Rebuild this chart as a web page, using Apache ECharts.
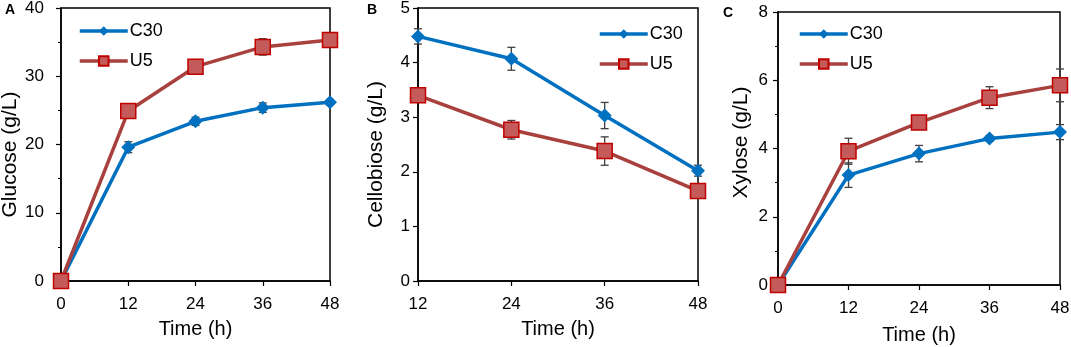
<!DOCTYPE html>
<html>
<head>
<meta charset="utf-8">
<script src="https://cdn.jsdelivr.net/npm/echarts@6/dist/echarts.min.js"></script>
<style>
  html, body { margin: 0; padding: 0; background: #fff; }
  #chart { width: 1071px; height: 347px; }
</style>
</head>
<body>
<div id="chart"></div>
<script>
// panel A - glucose
const timeA = [0, 12, 24, 36, 48]
const glucoseC30 = [0, 19.6, 23.4, 25.4, 26.2]
const glucoseC30Err = [0, 0.8, 0.6, 0.7, 0.4]
const glucoseU5 = [0, 24.9, 31.4, 34.3, 35.3]
const glucoseU5Err = [0, 0.5, 0.5, 1.2, 0.6]

// panel B - cellobiose
const timeB = [12, 24, 36, 48]
const cellobioseC30 = [4.48, 4.07, 3.03, 2.02]
const cellobioseC30Err = [0.14, 0.21, 0.24, 0.1]
const cellobioseU5 = [3.4, 2.77, 2.38, 1.65]
const cellobioseU5Err = [0.05, 0.17, 0.26, 0.05]

// panel C - xylose
const timeC = [0, 12, 24, 36, 48]
const xyloseC30 = [0, 3.22, 3.85, 4.29, 4.48]
const xyloseC30Err = [0, 0.36, 0.24, 0.08, 0.22]
const xyloseU5 = [0, 3.92, 4.76, 5.49, 5.85]
const xyloseU5Err = [0, 0.38, 0.1, 0.32, 0.48]

const BLUE = '#0070C0'
const RED_LINE = '#A8403E'
const RED_FILL = '#C55A5A'
const RED_EDGE = '#C00000'
const FONT = 'Liberation Sans, Arial, sans-serif'

const grids = [
  { left: 61, top: 8, width: 269, height: 273 },
  { left: 418, top: 8, width: 280, height: 273 },
  { left: 778, top: 12, width: 282, height: 273 },
]

// per-panel axis setup; padding nudges the rotated y title up/down
const panels = [
  { x: timeA, c30: glucoseC30, c30e: glucoseC30Err, u5: glucoseU5, u5e: glucoseU5Err,
    xmin: 0, ymax: 40, yint: 10, minor: true, name: 'Glucose (g/L)',
    yGap: 40, yMargin: 17, xGap: 38, namePad: [0, 20, 0, 0] },
  { x: timeB, c30: cellobioseC30, c30e: cellobioseC30Err, u5: cellobioseU5, u5e: cellobioseU5Err,
    xmin: 12, ymax: 5, yint: 1, minor: false, name: 'Cellobiose (g/L)',
    yGap: 31, yMargin: 8, xGap: 38, namePad: [0, 20, 0, 0] },
  { x: timeC, c30: xyloseC30, c30e: xyloseC30Err, u5: xyloseU5, u5e: xyloseU5Err,
    xmin: 0, ymax: 8, yint: 2, minor: true, name: 'Xylose (g/L)',
    yGap: 26, yMargin: 10, xGap: 40, namePad: [0, 0, 0, 12] },
]

function pairs(xs, ys) {
  return xs.map((x, i) => [x, ys[i]])
}

function errData(xs, ys, es) {
  return xs.map((x, i) => [x, ys[i] - es[i], ys[i] + es[i]])
}

function renderErr(params, api) {
  const lo = api.coord([api.value(0), api.value(1)])
  const hi = api.coord([api.value(0), api.value(2)])
  const w = 4
  const style = { stroke: '#404040', lineWidth: 1.3 }
  return {
    type: 'group',
    children: [
      { type: 'line', shape: { x1: lo[0], y1: lo[1], x2: hi[0], y2: hi[1] }, style },
      { type: 'line', shape: { x1: lo[0] - w, y1: lo[1], x2: lo[0] + w, y2: lo[1] }, style },
      { type: 'line', shape: { x1: hi[0] - w, y1: hi[1], x2: hi[0] + w, y2: hi[1] }, style },
    ],
  }
}

const xAxis = []
const yAxis = []
const series = []

panels.forEach((p, i) => {
  xAxis.push({
    type: 'value', gridIndex: i, min: p.xmin, max: 48, interval: 12,
    name: 'Time (h)', nameLocation: 'middle', nameGap: p.xGap,
    nameTextStyle: { fontFamily: FONT, fontSize: 20, color: '#000' },
    axisLine: { lineStyle: { color: '#000', width: 1.5 } },
    axisTick: { length: 5, lineStyle: { color: '#000', width: 1.2 } },
    axisLabel: { margin: 15, fontFamily: FONT, fontSize: 17, color: '#000' },
    splitLine: { show: false },
  })
  yAxis.push({
    type: 'value', gridIndex: i, min: 0, max: p.ymax, interval: p.yint,
    name: p.name, nameLocation: 'middle', nameGap: p.yGap,
    nameTextStyle: { fontFamily: FONT, fontSize: 21, color: '#000', padding: p.namePad },
    axisLine: { show: true, lineStyle: { color: '#000', width: 1.5 } },
    axisTick: { show: true, length: 5, lineStyle: { color: '#000', width: 1.2 } },
    minorTick: { show: p.minor, splitNumber: 2, length: 3, lineStyle: { color: '#000', width: 1 } },
    axisLabel: { margin: p.yMargin, fontFamily: FONT, fontSize: 17, color: '#000' },
    splitLine: { show: false },
  })
  series.push({
    type: 'custom', xAxisIndex: i, yAxisIndex: i, z: 2, silent: true,
    renderItem: renderErr, data: errData(p.x, p.c30, p.c30e),
  })
  series.push({
    type: 'custom', xAxisIndex: i, yAxisIndex: i, z: 2, silent: true,
    renderItem: renderErr, data: errData(p.x, p.u5, p.u5e),
  })
  series.push({
    name: 'C30', type: 'line', xAxisIndex: i, yAxisIndex: i, z: 3,
    data: pairs(p.x, p.c30),
    symbol: 'diamond', symbolSize: 14,
    lineStyle: { color: BLUE, width: 3.5 },
    itemStyle: { color: BLUE },
  })
  series.push({
    name: 'U5', type: 'line', xAxisIndex: i, yAxisIndex: i, z: 4,
    data: pairs(p.x, p.u5),
    symbol: 'rect', symbolSize: 15,
    lineStyle: { color: RED_LINE, width: 3.5 },
    itemStyle: { color: RED_FILL, borderColor: RED_EDGE, borderWidth: 1.5 },
  })
})

const legendBase = {
  data: ['C30', 'U5'], orient: 'vertical', padding: 0,
  itemWidth: 48, itemHeight: 12, itemGap: 12, selectedMode: false,
  lineStyle: { width: 3.5 },
  textStyle: { fontFamily: FONT, fontSize: 18, color: '#000', padding: [0, 0, 0, -3] },
}

const chart = echarts.init(document.getElementById('chart'))
chart.setOption({
  animation: false,
  grid: grids.map(g => Object.assign({
    show: true, borderColor: '#000', borderWidth: 1.5, outerBoundsMode: 'none',
  }, g)),
  xAxis,
  yAxis,
  series,
  legend: [
    Object.assign({ left: 78, top: 22 }, legendBase),
    Object.assign({ left: 598, top: 25 }, legendBase),
    Object.assign({ left: 798, top: 25 }, legendBase),
  ],
  graphic: [
    { type: 'text', left: 5, top: 3, style: { text: 'A', font: 'bold 14px ' + FONT, fill: '#000' } },
    { type: 'text', left: 367, top: 3, style: { text: 'B', font: 'bold 14px ' + FONT, fill: '#000' } },
    { type: 'text', left: 723, top: 6, style: { text: 'C', font: 'bold 14px ' + FONT, fill: '#000' } },
  ],
})
</script>
</body>
</html>
